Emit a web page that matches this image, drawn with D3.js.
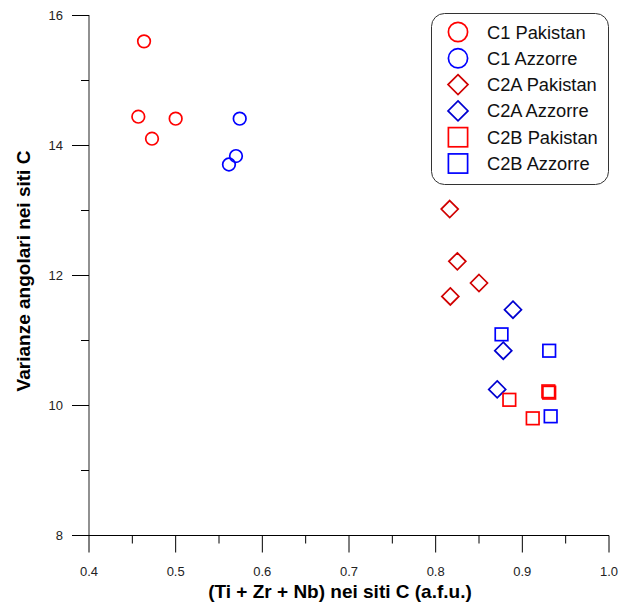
<!DOCTYPE html>
<html><head><meta charset="utf-8">
<script src="https://cdn.jsdelivr.net/npm/d3@7"></script>
<style>body{margin:0;background:#fff}svg{display:block}</style>
</head><body>
<svg id="chart" width="624" height="607"></svg>
<script>
const xTicks = [0.4, 0.5, 0.6, 0.7, 0.8, 0.9, 1.0];
const yTicks = [8, 10, 12, 14, 16];
const seriesNames = ["C1 Pakistan", "C1 Azzorre", "C2A Pakistan", "C2A Azzorre", "C2B Pakistan", "C2B Azzorre"];
const c1Pakistan = [[0.4635, 15.595], [0.4569, 14.435], [0.500, 14.405], [0.4727, 14.097]];
const c1Azzorre = [[0.5739, 14.405], [0.5696, 13.83], [0.5615, 13.70]];
const c2aPakistan = [[0.8162, 13.015], [0.825, 12.21], [0.850, 11.877], [0.8169, 11.67]];
const c2aAzzorre = [[0.8892, 11.466], [0.878, 10.835], [0.871, 10.24]];
const c2bPakistan = [[0.885, 10.08], [0.930, 10.21], [0.931, 10.19], [0.912, 9.795]];
const c2bAzzorre = [[0.876, 11.087], [0.931, 10.835], [0.9327, 9.826]];

const series = [
  {name: seriesNames[0], data: c1Pakistan, shape: "circle", color: "#ff0000"},
  {name: seriesNames[1], data: c1Azzorre, shape: "circle", color: "#0000ff"},
  {name: seriesNames[2], data: c2aPakistan, shape: "diamond", color: "#d00000"},
  {name: seriesNames[3], data: c2aAzzorre, shape: "diamond", color: "#0000d0"},
  {name: seriesNames[4], data: c2bPakistan, shape: "square", color: "#ff0000"},
  {name: seriesNames[5], data: c2bAzzorre, shape: "square", color: "#0000ff"}
];

const svg = d3.select("#chart");
const x = d3.scaleLinear().domain([0.4, 1.0]).range([89, 609]);
const y = d3.scaleLinear().domain([8, 16]).range([535, 15]);
const font = "Arial, 'Liberation Sans', sans-serif";

// x axis
const xMinor = d3.range(0.45, 1.0, 0.1);
const gx = svg.append("g").attr("transform", "translate(0,535.5)");
gx.append("line").attr("x1", 89).attr("x2", 609).attr("stroke", "#000");
gx.selectAll(".maj").data(xTicks).join("line")
  .attr("x1", d => x(d)).attr("x2", d => x(d)).attr("y1", 0).attr("y2", 17).attr("stroke", "#000");
gx.selectAll(".min").data(xMinor).join("line")
  .attr("x1", d => x(d)).attr("x2", d => x(d)).attr("y1", 0).attr("y2", 8).attr("stroke", "#000");
gx.selectAll("text").data(xTicks).join("text")
  .attr("x", d => x(d)).attr("y", 40).attr("text-anchor", "middle")
  .attr("font-family", font).attr("font-size", 13).attr("fill", "#222")
  .text(d => d3.format(".1f")(d));

// y axis
const yMinor = [9, 11, 13, 15];
const gy = svg.append("g").attr("transform", "translate(89,0)");
gy.append("line").attr("y1", 15).attr("y2", 535).attr("stroke", "#555").attr("stroke-width", 1.3);
gy.selectAll(".maj").data(yTicks).join("line")
  .attr("y1", d => y(d) + 0.5).attr("y2", d => y(d) + 0.5).attr("x1", 0).attr("x2", -17).attr("stroke", "#000");
gy.selectAll(".min").data(yMinor).join("line")
  .attr("y1", d => y(d) + 0.5).attr("y2", d => y(d) + 0.5).attr("x1", 0).attr("x2", -8).attr("stroke", "#000");
gy.selectAll("text").data(yTicks).join("text")
  .attr("x", -26).attr("y", d => y(d) + 5).attr("text-anchor", "end")
  .attr("font-family", font).attr("font-size", 13).attr("fill", "#222")
  .text(d => d);

// titles
svg.append("text").attr("x", 340).attr("y", 598).attr("text-anchor", "middle")
  .attr("font-family", font).attr("font-size", 19).attr("font-weight", "bold")
  .text("(Ti + Zr + Nb) nei siti C (a.f.u.)");
svg.append("text").attr("transform", "translate(30,271) rotate(-90)").attr("text-anchor", "middle")
  .attr("font-family", font).attr("font-size", 19).attr("font-weight", "bold")
  .text("Varianze angolari nei siti C");

function drawShape(g, shape, cx, cy, s, d, color, sw) {
  if (shape === "circle") {
    g.append("circle").attr("cx", cx).attr("cy", cy).attr("r", s)
      .attr("fill", "none").attr("stroke", color).attr("stroke-width", sw);
  } else if (shape === "diamond") {
    g.append("path").attr("d", `M${cx},${cy-d}L${cx+d},${cy}L${cx},${cy+d}L${cx-d},${cy}Z`)
      .attr("fill", "none").attr("stroke", color).attr("stroke-width", sw);
  } else {
    g.append("rect").attr("x", cx - s).attr("y", cy - s).attr("width", 2 * s).attr("height", 2 * s)
      .attr("fill", "none").attr("stroke", color).attr("stroke-width", sw);
  }
}

// points
const gp = svg.append("g");
series.forEach(s => {
  s.data.forEach(p => drawShape(gp, s.shape, x(p[0]), y(p[1]), 6.3, 8.5, s.color, 1.7));
});

// legend
const gl = svg.append("g");
gl.append("rect").attr("x", 431.5).attr("y", 13.5).attr("width", 177).attr("height", 171)
  .attr("rx", 13).attr("fill", "#fff").attr("stroke", "#333").attr("stroke-width", 1);
series.forEach((s, i) => {
  const cy = 32 + i * 26.3;
  drawShape(gl, s.shape, 458, cy, 9.6, 10, s.color, 1.7);
  gl.append("text").attr("x", 487).attr("y", cy + 6.5)
    .attr("font-family", font).attr("font-size", 18.3).attr("fill", "#111").text(s.name);
});
</script>
</body></html>
